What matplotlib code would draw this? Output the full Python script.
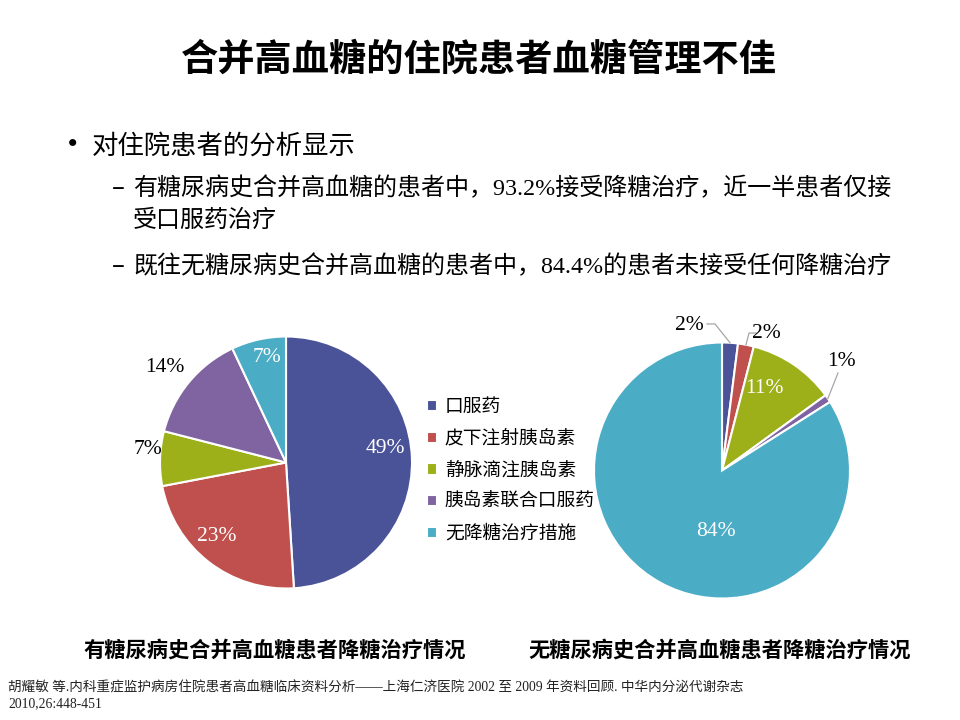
import matplotlib
matplotlib.use('Agg')
import matplotlib.pyplot as plt
import numpy as np

plt.rcParams['font.family'] = ['Noto Sans CJK SC', 'DejaVu Sans']
serif_cjk = ['Liberation Serif', 'Noto Sans CJK SC']

# data
categories = ['口服药', '皮下注射胰岛素', '静脉滴注胰岛素', '胰岛素联合口服药', '无降糖治疗措施']
with_history = [49, 23, 7, 14, 7]
without_history = [2, 2, 11, 1, 84]
colors = ['#4B5398', '#C0504D', '#9DB01A', '#8064A2', '#4BACC6']

title = '合并高血糖的住院患者血糖管理不佳'
bullet = '对住院患者的分析显示'
sub1_a = '有糖尿病史合并高血糖的患者中，93.2%接受降糖治疗，近一半患者仅接'
sub1_b = '受口服药治疗'
sub2 = '既往无糖尿病史合并高血糖的患者中，84.4%的患者未接受任何降糖治疗'
caption_left = '有糖尿病史合并高血糖患者降糖治疗情况'
caption_right = '无糖尿病史合并高血糖患者降糖治疗情况'
ref1 = '胡耀敏 等.内科重症监护病房住院患者高血糖临床资料分析——上海仁济医院 2002 至 2009 年资料回顾. 中华内分泌代谢杂志'
ref2 = '2010,26:448-451'

# layout (pixel space, y measured from top)
H = 720
left_c, left_r = (286, 462.5), 126
right_c, right_r = (722, 470.5), 128
left_lab = [(0.786, 0.115), (-0.548, -0.59), (-1.095, 0.107), (-0.96, 0.75), (-0.15, 0.837)]
left_lab_col = ['white', 'white', 'black', 'black', 'white']
right_lab = [(-0.258, 1.129), (0.344, 1.074), (0.328, 0.637), (0.93, 0.848), (-0.047, -0.48)]
right_lab_col = ['black', 'black', 'white', 'black', 'white']
right_leader = [[(-0.055, 1.145), (-0.117, 1.145)],
                [(0.211, 1.074), (0.266, 1.074)],
                None,
                [(0.906, 0.762)],
                None]

fig = plt.figure(figsize=(9.6, 7.2), dpi=100, facecolor='white')
ax = fig.add_axes([0, 0, 1, 1])


def draw_pie(values, center, r, lab_pos, lab_col, leaders=None):
    cx, cy = center[0], H - center[1]
    wedges, _ = ax.pie(values, colors=colors, startangle=90, counterclock=False,
                       center=(cx, cy), radius=r,
                       wedgeprops=dict(edgecolor='white', linewidth=1.5))
    for i, v in enumerate(values):
        dx, dy = lab_pos[i]
        ax.text(cx + r * dx, cy + r * dy, f'{v}%', color=lab_col[i],
                ha='center', va='center', fontsize=15.5, family=serif_cjk)
        if leaders and leaders[i]:
            w = wedges[i]
            mid = np.deg2rad((w.theta1 + w.theta2) / 2)
            xs = [cx + r * np.cos(mid)] + [cx + r * p[0] for p in leaders[i]]
            ys = [cy + r * np.sin(mid)] + [cy + r * p[1] for p in leaders[i]]
            ax.plot(xs, ys, color='#A6A6A6', linewidth=0.9)
    return wedges


wedges = draw_pie(with_history, left_c, left_r, left_lab, left_lab_col)
draw_pie(without_history, right_c, right_r, right_lab, right_lab_col, right_leader)

ax.legend(wedges, categories, loc='center left', bbox_to_anchor=(427 / 960, 1 - 470 / H),
          frameon=False, fontsize=13.5, handlelength=0.55, handleheight=0.55,
          handletextpad=0.4, labelspacing=0.57, borderpad=0, borderaxespad=0)

# texts
ax.text(479, H - 60, title, ha='center', va='center', fontsize=26.8, fontweight='bold')
ax.text(56, H - 146, '•', ha='left', va='center', fontsize=24)
ax.text(92, H - 146, bullet, ha='left', va='center', fontsize=19)
ax.text(112, H - 188, '–', ha='left', va='center', fontsize=17.3)
ax.text(133, H - 188, sub1_a, ha='left', va='center', fontsize=17.3, family=serif_cjk)
ax.text(133, H - 221, sub1_b, ha='left', va='center', fontsize=17.3, family=serif_cjk)
ax.text(112, H - 266, '–', ha='left', va='center', fontsize=17.3)
ax.text(133, H - 266, sub2, ha='left', va='center', fontsize=17.3, family=serif_cjk)

ax.text(275, H - 650, caption_left, ha='center', va='center', fontsize=15.3, fontweight='bold')
ax.text(720, H - 650, caption_right, ha='center', va='center', fontsize=15.3, fontweight='bold')
ax.text(8, H - 688, ref1, ha='left', va='center', fontsize=9.8, family=serif_cjk, color='#222222')
ax.text(8, H - 704, ref2, ha='left', va='center', fontsize=9.8, family=serif_cjk, color='#222222')

ax.set_xlim(0, 960)
ax.set_ylim(0, H)
ax.set_aspect('equal')
ax.axis('off')

fig.savefig('out.png', dpi=100, facecolor='white')
